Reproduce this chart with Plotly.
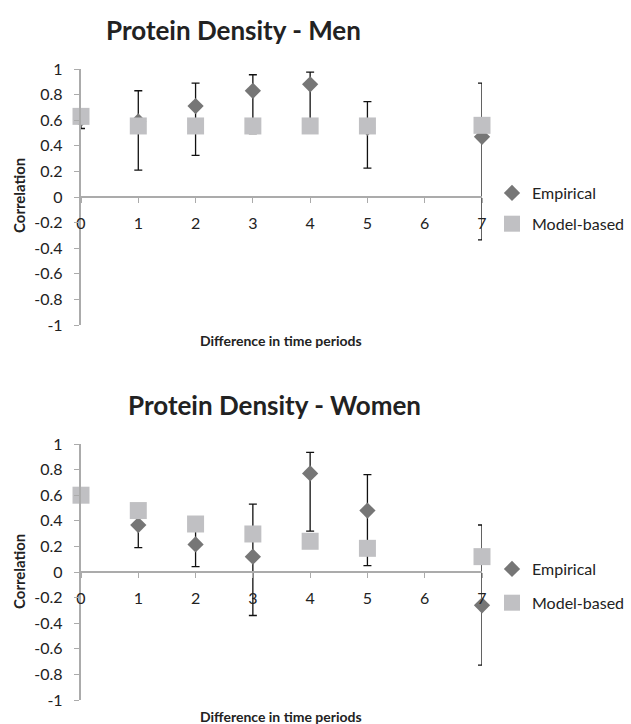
import plotly.graph_objects as go

# ---- data ----
lags = [0, 1, 2, 3, 4, 5, 7]

men_emp = [0.61, 0.59, 0.71, 0.83, 0.88, 0.54, 0.47]
men_emp_upper = [0.64, 0.83, 0.89, 0.955, 0.975, 0.745, 0.89]
men_emp_lower = [0.535, 0.21, 0.325, 0.495, 0.58, 0.225, -0.335]
men_model = [0.63, 0.555, 0.555, 0.555, 0.555, 0.555, 0.56]

women_emp = [0.6, 0.367, 0.215, 0.12, 0.77, 0.48, -0.26]
women_emp_upper = [0.62, 0.48, 0.37, 0.53, 0.935, 0.76, 0.367]
women_emp_lower = [0.58, 0.19, 0.042, -0.34, 0.32, 0.05, -0.727]
women_model = [0.6, 0.48, 0.375, 0.297, 0.24, 0.185, 0.12]

titles = ["Protein Density - Men", "Protein Density - Women"]
x_title = "Difference in time periods"
y_title = "Correlation"
y_ticks = [1, 0.8, 0.6, 0.4, 0.2, 0, -0.2, -0.4, -0.6, -0.8, -1]
y_ticktext = ["1", "0.8", "0.6", "0.4", "0.2", "0", "-0.2", "-0.4", "-0.6", "-0.8", "-1"]
x_ticks = [0, 1, 2, 3, 4, 5, 6, 7]

# ---- styling ----
W, H = 631, 724
FONT = "Lato"
EMP_COLOR = "#767676"
MOD_COLOR = "#c0c0c3"
AXIS_COLOR = "#ababab"
TEXT_COLOR = "#222222"
Y_LABEL_PAD = "\u00a0\u00a0"   # gap between y tick labels and the axis

def px_x(p):
    return p / W

def px_y(p):
    return 1 - p / H

x_dom = [px_x(81), px_x(482)]
panels = [
    dict(ytop=69, ybot=325, title_y=30, title_x=233, xt_y=340, yt_y=196,
         leg_y=176, gap=7, emp=men_emp, up=men_emp_upper, lo=men_emp_lower, mod=men_model),
    dict(ytop=444, ybot=700, title_y=405, title_x=274, xt_y=716, yt_y=572,
         leg_y=552, gap=10, emp=women_emp, up=women_emp_upper, lo=women_emp_lower, mod=women_model),
]

fig = go.Figure()
annotations = []
layout = dict(
    width=W, height=H,
    margin=dict(l=0, r=0, t=0, b=0, autoexpand=False),
    paper_bgcolor="white", plot_bgcolor="white",
    font=dict(family=FONT, size=16, color=TEXT_COLOR),
    showlegend=True,
)

for i, p in enumerate(panels):
    n = "" if i == 0 else str(i + 1)
    xa = "x" + n
    ya = "y" + n
    leg = "legend" + n
    err_plus = [u - v for u, v in zip(p["up"], p["emp"])]
    err_minus = [v - l for v, l in zip(p["emp"], p["lo"])]
    fig.add_trace(go.Scatter(
        x=lags, y=p["emp"], mode="markers", name="Empirical",
        xaxis=xa, yaxis=ya, legend=leg, legendgroup="e" + n,
        marker=dict(symbol="diamond", size=12.5, color=EMP_COLOR),
        error_y=dict(type="data", symmetric=False, array=err_plus, arrayminus=err_minus,
                     color="#111111", thickness=1.3, width=4),
        cliponaxis=False,
    ))
    fig.add_trace(go.Scatter(
        x=lags, y=p["mod"], mode="markers", name="Model-based",
        xaxis=xa, yaxis=ya, legend=leg, legendgroup="m" + n,
        marker=dict(symbol="square", size=17, color=MOD_COLOR),
        cliponaxis=False,
    ))
    y_dom = [px_y(p["ybot"]), px_y(p["ytop"])]
    layout["xaxis" + n] = dict(
        domain=x_dom, range=[0, 7], anchor="free",
        position=(y_dom[0] + y_dom[1]) / 2, automargin=False,
        tickvals=x_ticks, ticks="outside", ticklen=5, tickcolor=AXIS_COLOR,
        ticklabelstandoff=7,
        showline=True, linecolor=AXIS_COLOR, linewidth=1.5,
        showgrid=False, zeroline=False,
        tickfont=dict(size=16, color=TEXT_COLOR),
    )
    layout["yaxis" + n] = dict(
        domain=y_dom, range=[-1, 1], anchor=xa, automargin=False,
        tickvals=y_ticks, ticktext=[t + Y_LABEL_PAD for t in y_ticktext],
        ticks="outside", ticklen=5, tickcolor=AXIS_COLOR,
        showline=True, linecolor=AXIS_COLOR, linewidth=2,
        showgrid=False, zeroline=False,
        tickfont=dict(size=16, color=TEXT_COLOR),
    )
    layout[leg] = dict(
        x=px_x(492), y=px_y(p["leg_y"]), xanchor="left", yanchor="top",
        font=dict(size=16, color=TEXT_COLOR), traceorder="grouped",
        tracegroupgap=p["gap"], bgcolor="rgba(0,0,0,0)",
    )
    annotations += [
        dict(text="<b>" + titles[i] + "</b>", x=px_x(p["title_x"]), y=px_y(p["title_y"]),
             xref="paper", yref="paper", showarrow=False, xanchor="center", yanchor="middle",
             font=dict(size=26, color=TEXT_COLOR)),
        dict(text="<b>" + x_title + "</b>", x=px_x(281), y=px_y(p["xt_y"]),
             xref="paper", yref="paper", showarrow=False, xanchor="center", yanchor="middle",
             font=dict(size=14, color=TEXT_COLOR)),
        dict(text="<b>" + y_title + "</b>", x=px_x(19), y=px_y(p["yt_y"]),
             xref="paper", yref="paper", showarrow=False, xanchor="center", yanchor="middle",
             textangle=-90, font=dict(size=15, color=TEXT_COLOR)),
    ]

layout["annotations"] = annotations
fig.update_layout(**layout)
fig.write_html(
    "out.html",
    config={"displayModeBar": False},
    post_script="document.body.style.margin='0';document.body.style.overflow='hidden';",
)
